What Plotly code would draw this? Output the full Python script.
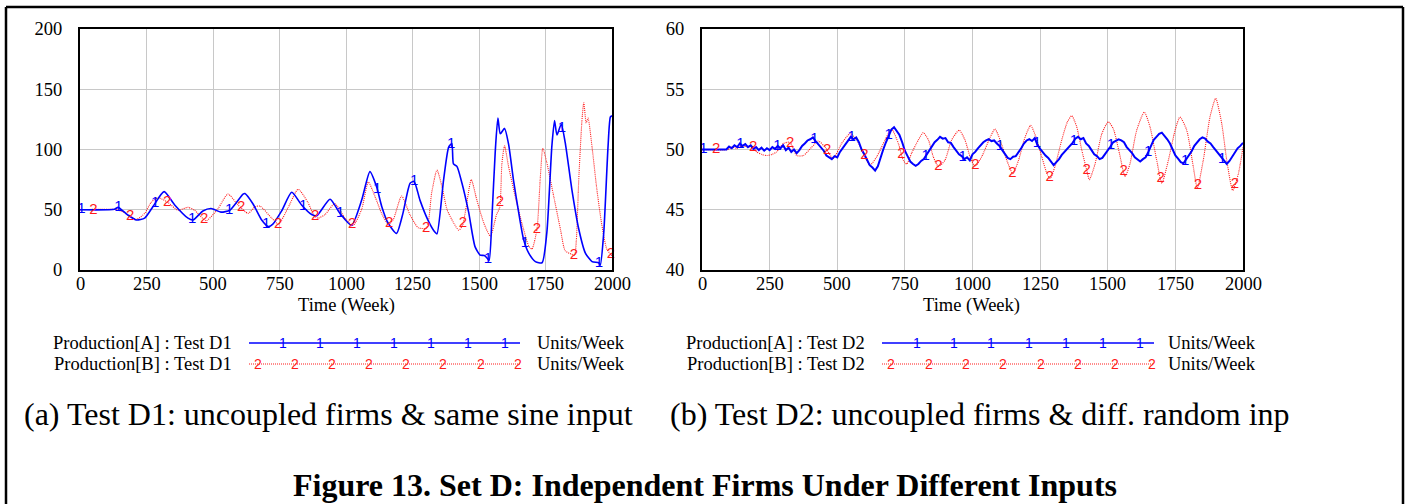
import numpy as np
import plotly.graph_objects as go

# ---------------- Test D1: uncoupled firms, same sine input ----------------
d1_a_week = [0, 130, 143, 180, 212, 243, 274, 316, 356, 406, 425, 462, 493, 530, 563, 613, 620,
             650, 683, 708, 725, 758, 796, 833, 871, 890, 940, 977, 1021, 1059, 1090, 1115, 1134,
             1158, 1190, 1214, 1241, 1256, 1278, 1309, 1334, 1342, 1367, 1386, 1398, 1404, 1417,
             1436, 1461, 1485, 1504, 1520, 1530, 1538, 1549, 1561, 1571, 1580, 1596, 1611, 1630,
             1649, 1668, 1687, 1712, 1737, 1755, 1774, 1784, 1793, 1809, 1824, 1849, 1875, 1900,
             1925, 1950, 1956, 1969, 1985, 1994, 2000]
d1_a_prod = [50, 50.4, 52, 45.6, 41.5, 43, 52.5, 65, 54, 43, 41.5, 49, 51, 48, 49.6, 63, 63.5,
             55, 41.5, 36, 38, 49, 64.5, 54, 46, 45, 58.7, 47, 37, 58, 81.6, 69, 53,
             39, 30.4, 47, 72, 73.5, 58, 41, 31.5, 30, 75, 102, 105, 88, 86,
             72, 48, 19.4, 12.4, 12, 10, 8, 45, 98, 126, 113, 117.5, 104.6, 74,
             48, 25, 14, 7, 6, 31, 103, 124, 112, 121, 106, 67, 34, 14,
             7, 6, 4, 31, 102, 127, 128]

d1_b_week = [0, 140, 180, 212, 243, 267, 293, 331, 368, 406, 431, 474, 519, 556, 594, 632, 658,
             677, 721, 746, 783, 820, 857, 880, 895, 921, 958, 996, 1027, 1059, 1084, 1109, 1134,
             1159, 1178, 1209, 1241, 1272, 1303, 1322, 1342, 1361, 1380, 1405, 1424, 1438, 1450,
             1471, 1492, 1518, 1543, 1566, 1578, 1586, 1596, 1611, 1636, 1661, 1687, 1699, 1718,
             1730, 1740, 1755, 1781, 1806, 1824, 1849, 1859, 1866, 1875, 1887, 1894, 1903, 1910,
             1925, 1943, 1962, 1981, 2000]
d1_b_prod = [50, 50, 46, 42, 47, 56, 60, 56, 49.6, 52, 49.6, 40.9, 51, 63, 54, 47, 52.5,
             53, 43, 38, 52, 67, 56, 45, 43, 46, 55, 43, 37, 50.5, 73, 61, 47,
             38, 42, 61.4, 45.6, 35, 35, 64, 83, 69, 50, 39, 33, 37, 50,
             75, 58, 39, 28, 46, 52, 88, 103, 86, 61, 39, 20, 17.4, 34,
             75, 101, 89, 61, 34, 16, 13, 12, 25, 75, 124, 139, 122, 126,
             102, 67, 37, 17, 12]

# ---------------- Test D2: uncoupled firms, different random inputs ----------------
d2_a_week = list(range(0, 2001, 10))
d2_a_prod = [50.0, 50.0, 50.0, 50.0, 50.0, 50.0, 50.0, 50.0, 50.0, 50.0,
             50.25, 50.1, 50.35, 50.2, 50.5, 50.3, 50.45, 50.2, 50.35, 50.05,
             50.2, 49.95, 50.15, 49.9, 50.1, 49.95, 50.2, 50.05, 50.3, 50.1,
             50.35, 49.95, 50.15, 49.8, 50.0, 49.7, 49.95, 50.3, 50.5, 50.75,
             50.85, 51.0, 50.7, 50.45, 50.2, 49.9, 49.5, 49.35, 49.2, 49.45,
             49.35, 49.8, 50.1, 50.5, 50.7, 51.05, 50.85, 51.0, 50.6, 50.0,
             49.6, 49.1, 48.7, 48.5, 48.25, 48.6, 49.4, 50.0, 50.6, 51.2,
             51.65, 51.85, 51.5, 51.2, 50.6, 49.9, 49.45, 49.0, 48.8, 48.65,
             48.8, 49.05, 49.2, 49.55, 49.8, 50.25, 50.6, 50.8, 51.05, 50.9,
             50.95, 50.6, 50.55, 50.2, 49.9, 49.6, 49.45, 49.2, 49.35, 49.1,
             49.6, 49.8, 50.1, 50.4, 50.6, 50.75, 50.85, 50.7, 50.75, 50.5,
             50.3, 49.95, 49.65, 49.3, 49.2, 49.4, 49.45, 49.75, 50.1, 50.5,
             50.75, 50.85, 50.7, 50.95, 50.4, 50.05, 49.75, 49.5, 49.3, 49.0,
             48.7, 48.95, 49.2, 49.55, 49.8, 50.1, 50.35, 50.55, 50.9, 51.05,
             50.85, 50.95, 50.5, 50.3, 49.95, 49.6, 49.45, 49.2, 49.3, 49.6,
             49.85, 50.25, 50.6, 50.7, 50.85, 50.75, 50.6, 50.2, 49.95, 49.7,
             49.35, 49.15, 49.0, 49.2, 49.35, 49.8, 50.3, 50.8, 51.05, 51.3,
             51.4, 51.15, 50.85, 50.5, 49.95, 49.5, 49.25, 48.95, 48.85, 49.15,
             49.5, 49.85, 50.3, 50.6, 50.85, 51.0, 50.9, 50.65, 50.5, 50.2,
             49.9, 49.6, 49.3, 49.05, 48.8, 49.05, 49.4, 49.75, 50.1, 50.3,
             50.55]

d2_b_week = [0, 95, 110, 130, 150, 170, 184, 202, 220, 239, 260, 276, 301, 325, 350, 375, 406,
             430, 455, 485, 516, 547, 572, 596, 621, 646, 677, 701, 726, 744, 757, 775, 800,
             818, 837, 855, 874, 898, 923, 951, 972, 991, 1009, 1034, 1065, 1083, 1102, 1127,
             1149, 1170, 1194, 1215, 1235, 1256, 1277, 1287, 1305, 1330, 1351, 1367, 1385, 1404,
             1422, 1432, 1453, 1478, 1502, 1521, 1543, 1564, 1582, 1607, 1635, 1656, 1681, 1700,
             1724, 1749, 1767, 1792, 1816, 1831, 1853, 1878, 1899, 1921, 1940, 1962, 1983, 2000]
d2_b_prod = [50, 50, 50.2, 50.1, 50.3, 50.2, 50.3, 49.8, 49.6, 49.5, 49.6, 49.8, 50.5, 50.6, 49.5, 49.5, 50.2,
             50.7, 50.2, 49.25, 50.5, 51.3, 50.8, 49.7, 48.7, 49.4, 50.8, 51.7, 50.5, 49.1, 48.8, 49.7, 50.8,
             51.4, 50.8, 49.4, 48.6, 49.1, 50.8, 51.6, 50.8, 49.4, 48.6, 49.4, 51.0, 51.7, 50.8, 49.1,
             48.0, 49.1, 51.0, 52.0, 51.0, 49.4, 47.9, 47.6, 48.6, 50.8, 52.3, 52.8, 51.9, 49.95,
             48.3, 47.5, 48.8, 51.3, 52.3, 51.7, 49.7, 47.75, 48.8, 51.6, 53.1, 51.9, 49.1, 47.2,
             49.1, 51.6, 52.7, 51.6, 48.6, 46.8, 49.1, 52.7, 54.25, 52.2, 49.1, 46.6, 48.0, 50.2]

# Series tags drawn along the lines (every ~139 weeks)
d1_tag_a_week = [5, 144, 283, 422, 561, 700, 839, 978, 1117, 1256, 1395, 1534, 1673, 1812, 1951]
d1_tag_b_week = [50, 189, 328, 467, 606, 745, 884, 1023, 1162, 1301, 1440, 1579, 1718, 1857, 1996]
d2_tag_a_week = [5, 142, 279, 416, 553, 690, 827, 964, 1101, 1238, 1375, 1512, 1649, 1786, 1923]
d2_tag_b_week = [52, 189, 326, 463, 600, 737, 874, 1011, 1148, 1285, 1422, 1559, 1696, 1833, 1970]

x_ticks = [0, 250, 500, 750, 1000, 1250, 1500, 1750, 2000]
d1_y_ticks = [0, 50, 100, 150, 200]
d2_y_ticks = [40, 45, 50, 55, 60]

W, H = 1409, 504
SERIF = "Liberation Serif, Times New Roman, serif"
SANS = "Liberation Sans, Arial, sans-serif"
BLUE = "#0000ff"
RED = "#ff1a1a"
GRID = "#c8c8c8"


def px(p):
    """pixel x -> paper fraction"""
    return p / W


def py(p):
    """pixel y (from top) -> paper fraction"""
    return 1 - p / H


fig = go.Figure()

panels = [
    ("x", "y", d1_a_week, d1_a_prod, d1_b_week, d1_b_prod, d1_tag_a_week, d1_tag_b_week, "spline", 1.6),
    ("x2", "y2", d2_a_week, d2_a_prod, d2_b_week, d2_b_prod, d2_tag_a_week, d2_tag_b_week, "linear", 2.0),
]
for xa, ya, aw, av, bw, bv, ta, tb, a_shape, a_width in panels:
    fig.add_trace(go.Scatter(x=bw, y=bv, mode="lines", xaxis=xa, yaxis=ya,
                             line=dict(color=RED, width=1.1, dash="1px,1px", shape="spline", smoothing=0.6),
                             showlegend=False, hoverinfo="skip"))
    fig.add_trace(go.Scatter(x=aw, y=av, mode="lines", xaxis=xa, yaxis=ya,
                             line=dict(color=BLUE, width=a_width, shape=a_shape, smoothing=0.6),
                             showlegend=False, hoverinfo="skip"))
    fig.add_trace(go.Scatter(x=ta, y=np.interp(ta, aw, av), mode="text", text=["1"] * len(ta),
                             xaxis=xa, yaxis=ya, textposition="middle center",
                             textfont=dict(family=SANS, size=15, color=BLUE),
                             showlegend=False, hoverinfo="skip", cliponaxis=False))
    fig.add_trace(go.Scatter(x=tb, y=np.interp(tb, bw, bv), mode="text", text=["2"] * len(tb),
                             xaxis=xa, yaxis=ya, textposition="middle center",
                             textfont=dict(family=SANS, size=15, color=RED),
                             showlegend=False, hoverinfo="skip", cliponaxis=False))

axis_common = dict(showline=True, mirror=True, linecolor="black", linewidth=2,
                   showgrid=True, gridcolor=GRID, gridwidth=1, zeroline=False, automargin=False,
                   tickfont=dict(family=SERIF, size=18.5, color="black"))

fig.update_layout(
    width=W, height=H, margin=dict(l=0, r=0, t=0, b=0, autoexpand=False),
    paper_bgcolor="white", plot_bgcolor="white", showlegend=False,
    xaxis=dict(domain=[px(80), px(612)], range=[0, 2000], tickvals=x_ticks, showticklabels=False,
               ticks="", anchor="y", **axis_common),
    yaxis=dict(domain=[py(270), py(29)], range=[0, 200], tickvals=d1_y_ticks,
               ticks="outside", ticklen=12, tickcolor="rgba(0,0,0,0)", anchor="x", **axis_common),
    xaxis2=dict(domain=[px(702), px(1243)], range=[0, 2000], tickvals=x_ticks, showticklabels=False,
                ticks="", anchor="y2", **axis_common),
    yaxis2=dict(domain=[py(270), py(29)], range=[40, 60], tickvals=d2_y_ticks,
                ticks="outside", ticklen=12, tickcolor="rgba(0,0,0,0)", anchor="x2", **axis_common),
)

# outer frame (open at the bottom), kept inside the figure box
frame_l, frame_t, frame_r = px(6), py(7), px(1403)
frame_line = dict(color="black", width=2.5)
shapes = [
    dict(type="line", xref="paper", yref="paper", x0=frame_l, x1=frame_r, y0=frame_t, y1=frame_t, line=frame_line),
    dict(type="line", xref="paper", yref="paper", x0=frame_l, x1=frame_l, y0=0, y1=frame_t, line=frame_line),
    dict(type="line", xref="paper", yref="paper", x0=frame_r, x1=frame_r, y0=0, y1=frame_t, line=frame_line),
]
annotations = []

# x tick labels placed just below each plot frame
for xref in ("x", "x2"):
    for t in x_ticks:
        annotations.append(dict(xref=xref, yref="paper", x=t, y=py(284), text=str(t), showarrow=False,
                                xanchor="center", yanchor="middle",
                                font=dict(family=SERIF, size=18.5, color="black")))


def text(x, y, s, size=18.5, anchor="center", bold=False):
    annotations.append(dict(xref="paper", yref="paper", x=px(x), y=py(y), text=f"<b>{s}</b>" if bold else s,
                            showarrow=False, xanchor=anchor, yanchor="middle",
                            font=dict(family=SERIF, size=size, color="black")))


# axis titles
text(346, 305, "Time (Week)")
text(972, 305, "Time (Week)")

# legend blocks below each panel
legends = [
    (234, 249, 520, 535, "Test D1",
     [282.6, 320, 356.7, 393.8, 430.8, 467.9, 505], [258, 295, 332, 369, 406, 443, 481, 518]),
    (867, 882, 1154, 1166, "Test D2",
     [917, 954, 991, 1029, 1066, 1103, 1140], [891, 929, 966, 1003, 1041, 1078, 1115, 1152]),
]
for lab_r, l0, l1, unit_l, run, ones, twos in legends:
    text(lab_r, 343, f"Production[A] : {run}", anchor="right")
    text(lab_r, 364, f"Production[B] : {run}", anchor="right")
    text(unit_l, 343, "Units/Week", anchor="left")
    text(unit_l, 364, "Units/Week", anchor="left")
    shapes.append(dict(type="line", xref="paper", yref="paper", x0=px(l0), x1=px(l1), y0=py(343), y1=py(343),
                       line=dict(color=BLUE, width=1.6)))
    shapes.append(dict(type="line", xref="paper", yref="paper", x0=px(l0), x1=px(l1), y0=py(364), y1=py(364),
                       line=dict(color=RED, width=1.1, dash="1px,1px")))
    for xv in ones:
        annotations.append(dict(xref="paper", yref="paper", x=px(xv), y=py(343), text="1", showarrow=False,
                                xanchor="center", yanchor="middle", font=dict(family=SANS, size=14, color=BLUE)))
    for xv in twos:
        annotations.append(dict(xref="paper", yref="paper", x=px(xv), y=py(364), text="2", showarrow=False,
                                xanchor="center", yanchor="middle", font=dict(family=SANS, size=14, color=RED)))

# sub-captions and figure title
text(22, 414, "(a) Test D1: uncoupled firms &amp; same sine input", size=32, anchor="left")
text(668, 414, "(b) Test D2: uncoupled firms &amp; diff. random inp", size=32, anchor="left")
text(704.5, 485, "Figure 13. Set D: Independent Firms Under Different Inputs", size=32, bold=True)

fig.update_layout(shapes=shapes, annotations=annotations)
fig.write_html("out.html")
